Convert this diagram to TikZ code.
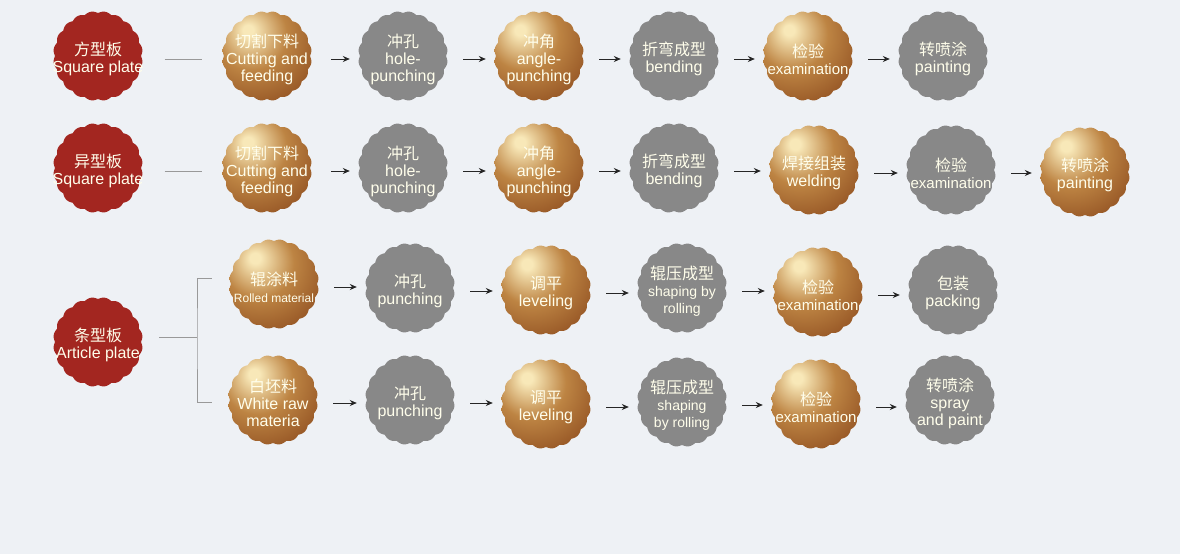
\documentclass[tikz,border=0pt]{standalone}
\usepackage{fontspec}
\setmainfont{Liberation Sans}
\newfontfamily\cjk{Noto Sans CJK SC}
\usepackage{xcolor}
\usetikzlibrary{positioning, calc, arrows.meta}

\definecolor{bgcol}{HTML}{EEF1F5}
\definecolor{ballred}{HTML}{A32620}
\definecolor{ballgray}{HTML}{888888}
\definecolor{goldhi}{HTML}{F8E8B8}
\definecolor{goldmid}{HTML}{BD8443}
\definecolor{goldlo}{HTML}{8A481C}
\pgfdeclareradialshading{goldshade}{\pgfpoint{-11bp}{15bp}}{%
  color(0bp)=(goldhi); color(3bp)=(goldhi); color(20bp)=(goldmid);
  color(44bp)=(goldlo); color(100bp)=(goldlo)}

\newcommand{\zh}[1]{{\cjk\fontsize{16}{20}\selectfont #1}}
\newcommand{\stepball}[5]{%
  \path[#4,shift={(#2,#3)}] plot[domain=0:360,samples=201,variable=\t]
    ({(43+1.8*abs(sin(10*\t)))*cos(\t)},{(43+1.8*abs(sin(10*\t)))*sin(\t)}) -- cycle;
  \node[balltext] (#1) at (#2,#3) {#5};}

\begin{document}
\begin{tikzpicture}[x=1pt, y=-1pt,
    redball/.style={fill=ballred},
    grayball/.style={fill=ballgray},
    goldball/.style={shade, shading=goldshade},
    balltext/.style={circle, minimum size=88pt, inner sep=0pt, align=center, yshift=-3pt,
      text=white!92!yellow, font=\fontsize{16}{17}\selectfont},
    arr/.style={-{Stealth[length=7pt,width=6pt]}, line width=0.9pt, color=black!85,
      shorten <=16pt, shorten >=9pt},
    link/.style={color=black!40, line width=0.9pt}]
  \fill[bgcol] (0,0) rectangle (1180,554);

  % row 1
  \stepball{r1}{98}{56}{redball}{\zh{方型板}\\Square plate}
  \stepball{a1}{267}{56}{goldball}{\zh{切割下料}\\Cutting and\\feeding}
  \stepball{a2}{403}{56}{grayball}{\zh{冲孔}\\hole-\\punching}
  \stepball{a3}{539}{56}{goldball}{\zh{冲角}\\angle-\\punching}
  \stepball{a4}{674}{56}{grayball}{\zh{折弯成型}\\bending}
  \stepball{a5}{808}{56}{goldball}{\zh{检验}\\{\fontsize{15}{17}\selectfont examination}}
  \stepball{a6}{943}{56}{grayball}{\zh{转喷涂}\\painting}

  % row 2
  \stepball{r2}{98}{168}{redball}{\zh{异型板}\\Square plate}
  \stepball{b1}{267}{168}{goldball}{\zh{切割下料}\\Cutting and\\feeding}
  \stepball{b2}{403}{168}{grayball}{\zh{冲孔}\\hole-\\punching}
  \stepball{b3}{539}{168}{goldball}{\zh{冲角}\\angle-\\punching}
  \stepball{b4}{674}{168}{grayball}{\zh{折弯成型}\\bending}
  \stepball{b5}{814}{170}{goldball}{\zh{焊接组装}\\welding}
  \stepball{b6}{951}{170}{grayball}{\zh{检验}\\{\fontsize{15}{17}\selectfont examination}}
  \stepball{b7}{1085}{172}{goldball}{\zh{转喷涂}\\painting}

  % rows 3 and 4
  \stepball{r3}{98}{342}{redball}{\zh{条型板}\\Article plate}
  \stepball{c1}{274}{284}{goldball}{\zh{辊涂料}\\{\fontsize{12}{14}\selectfont Rolled material}}
  \stepball{c2}{410}{288}{grayball}{\zh{冲孔}\\punching}
  \stepball{c3}{546}{290}{goldball}{\zh{调平}\\leveling}
  \stepball{c4}{682}{288}{grayball}{\zh{辊压成型}\\{\fontsize{14}{15}\selectfont shaping by}\\{\fontsize{14}{15}\selectfont rolling}}
  \stepball{c5}{818}{292}{goldball}{\zh{检验}\\{\fontsize{15}{17}\selectfont examination}}
  \stepball{c6}{953}{290}{grayball}{\zh{包装}\\packing}

  \stepball{d1}{273}{400}{goldball}{\zh{白坯料}\\White raw\\materia}
  \stepball{d2}{410}{400}{grayball}{\zh{冲孔}\\punching}
  \stepball{d3}{546}{404}{goldball}{\zh{调平}\\leveling}
  \stepball{d4}{682}{402}{grayball}{\zh{辊压成型}\\{\fontsize{14}{15}\selectfont shaping}\\{\fontsize{14}{15}\selectfont by rolling}}
  \stepball{d5}{816}{404}{goldball}{\zh{检验}\\{\fontsize{15}{17}\selectfont examination}}
  \stepball{d6}{950}{400}{grayball}{\zh{转喷涂}\\spray\\and paint}

  % connectors
  \draw[link, shorten <=18pt, shorten >=17pt] (r1) -- (a1);
  \draw[link, shorten <=18pt, shorten >=17pt] (r2) -- (b1);
  \coordinate (br) at (197,337);
  \draw[link] ($(r3.east)+(16,-8)$) -- (br);
  \draw[link] ($(c1.west)+(-18,-9)$) -| (br) |- ($(d1.west)+(-17,-1)$);
  \foreach \p/\q in {a1/a2, a2/a3, a3/a4, a4/a5, a5/a6,
                     b1/b2, b2/b3, b3/b4, b4/b5, b5/b6, b6/b7,
                     c1/c2, c2/c3, c3/c4, c4/c5, c5/c6,
                     d1/d2, d2/d3, d3/d4, d4/d5, d5/d6}
    \draw[arr] (\p) -- (\q.west |- \p);
\end{tikzpicture}
\end{document}
